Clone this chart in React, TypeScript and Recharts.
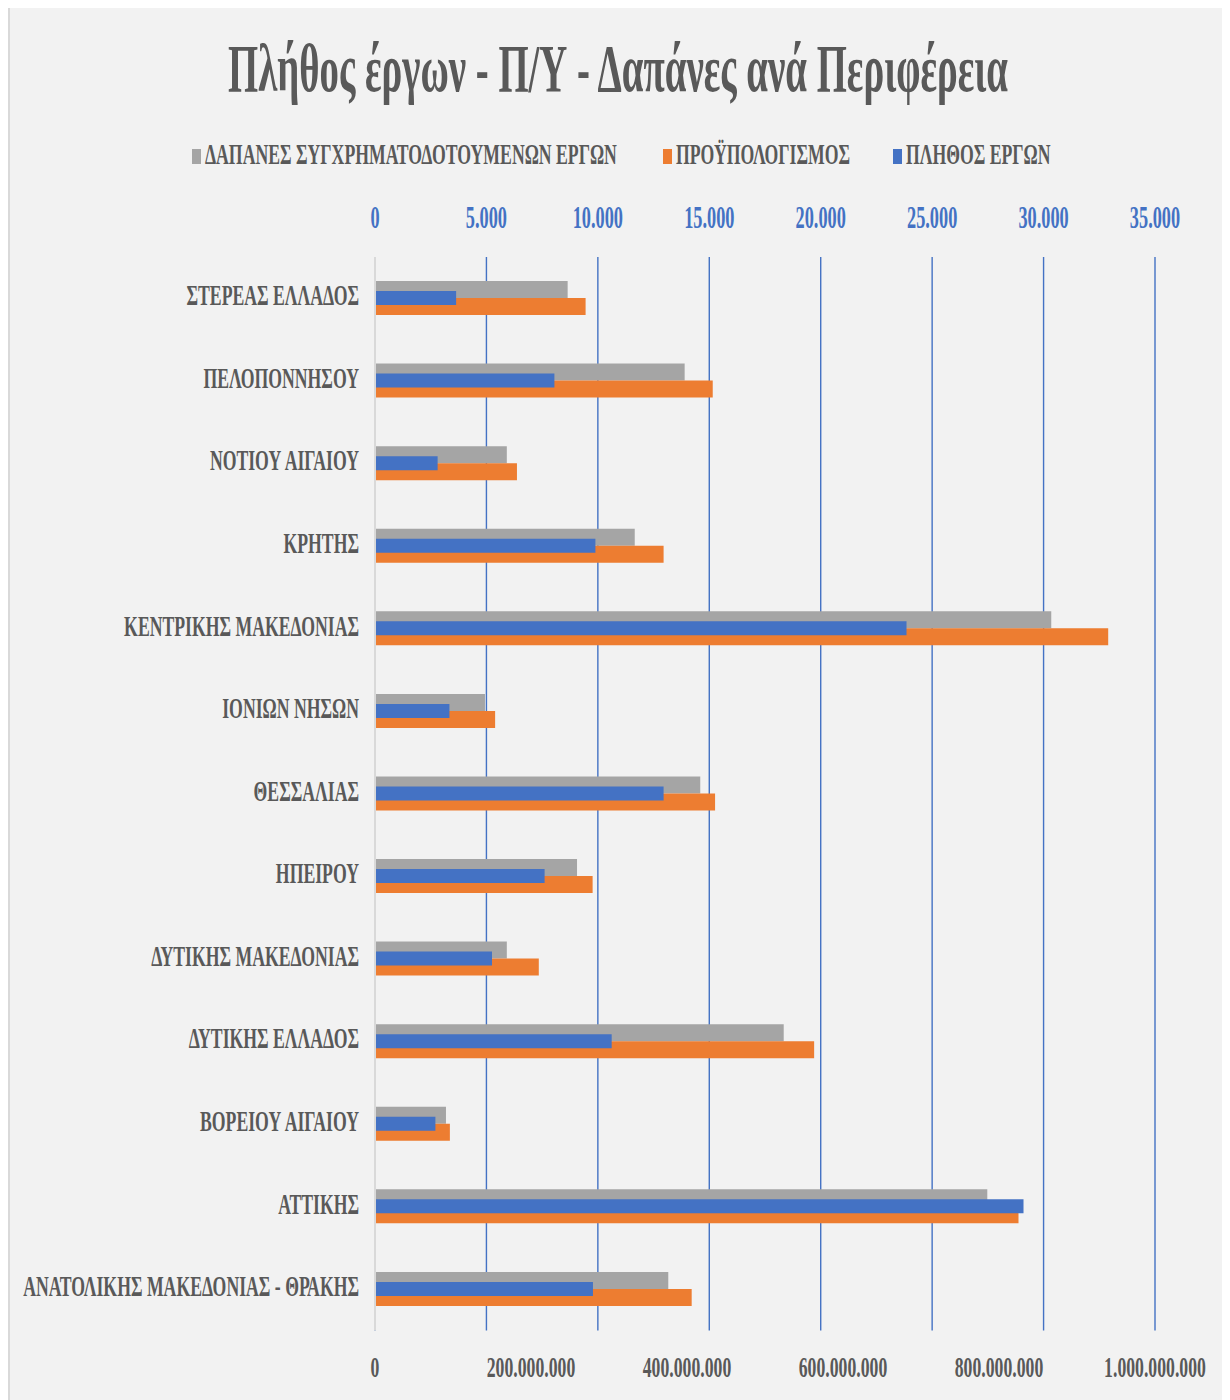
import React from 'react'
import { BarChart, Bar, XAxis, YAxis, CartesianGrid, Legend } from 'recharts'

const regions = [
  'ΣΤΕΡΕΑΣ ΕΛΛΑΔΟΣ',
  'ΠΕΛΟΠΟΝΝΗΣΟΥ',
  'ΝΟΤΙΟΥ ΑΙΓΑΙΟΥ',
  'ΚΡΗΤΗΣ',
  'ΚΕΝΤΡΙΚΗΣ ΜΑΚΕΔΟΝΙΑΣ',
  'ΙΟΝΙΩΝ ΝΗΣΩΝ',
  'ΘΕΣΣΑΛΙΑΣ',
  'ΗΠΕΙΡΟΥ',
  'ΔΥΤΙΚΗΣ ΜΑΚΕΔΟΝΙΑΣ',
  'ΔΥΤΙΚΗΣ ΕΛΛΑΔΟΣ',
  'ΒΟΡΕΙΟΥ ΑΙΓΑΙΟΥ',
  'ΑΤΤΙΚΗΣ',
  'ΑΝΑΤΟΛΙΚΗΣ ΜΑΚΕΔΟΝΙΑΣ - ΘΡΑΚΗΣ',
]

// δαπάνες συγχρηματοδοτούμενων έργων (€)
const spending = [247e6, 397e6, 169e6, 333e6, 867e6, 141e6, 417e6, 259e6, 169e6, 524e6, 91e6, 785e6, 376e6]
// προϋπολογισμός (€)
const budget = [270e6, 433e6, 182e6, 370e6, 940e6, 154e6, 436e6, 279e6, 210e6, 563e6, 96e6, 825e6, 406e6]
// πλήθος έργων
const projects = [3640, 8050, 2810, 9890, 23850, 3340, 12950, 7610, 5250, 10620, 2710, 29100, 9780]

const seriesNames = ['ΔΑΠΑΝΕΣ ΣΥΓΧΡΗΜΑΤΟΔΟΤΟΥΜΕΝΩΝ ΕΡΓΩΝ', 'ΠΡΟΫΠΟΛΟΓΙΣΜΟΣ', 'ΠΛΗΘΟΣ ΕΡΓΩΝ']
const seriesKeys = ['spending', 'budget', 'projects']

const topTicks = [0, 5000, 10000, 15000, 20000, 25000, 30000, 35000]
const bottomTicks = [0, 200e6, 400e6, 600e6, 800e6, 1000e6]

const data = regions.map((region, i) => ({
  region,
  spending: spending[i],
  budget: budget[i],
  projects: projects[i],
}))

const FONT = '"Liberation Serif", "Times New Roman", serif'
const SX = 0.59
const TITLE_SX = 0.56
const TEXT = '#595959'
const GREY = '#a5a5a5'
const ORANGE = '#ed7d31'
const BLUE = '#4472c4'

const fmt = (v: number) => String(Math.round(v)).replace(/\B(?=(\d{3})+(?!\d))/g, '.')

function CatTick({ x, y, payload }: any) {
  return (
    <g transform={`translate(${x},${y})`}>
      <text transform={`scale(${SX},1)`} textAnchor="end" dy={7} fontFamily={FONT} fontWeight="bold" fontSize={30} fill={TEXT}>
        {payload.value}
      </text>
    </g>
  )
}

function TopTick({ x, y, payload }: any) {
  return (
    <g transform={`translate(${x},${y})`}>
      <text transform={`scale(${SX},1)`} textAnchor="middle" fontFamily={FONT} fontWeight="bold" fontSize={31} fill={BLUE}>
        {fmt(payload.value)}
      </text>
    </g>
  )
}

function BottomTick({ x, y, payload }: any) {
  return (
    <g transform={`translate(${x},${y})`}>
      <text transform={`scale(${SX},1)`} textAnchor="middle" dy={20} fontFamily={FONT} fontWeight="bold" fontSize={30} fill={TEXT}>
        {fmt(payload.value)}
      </text>
    </g>
  )
}

function LegendContent({ payload }: any) {
  const xs = [184, 655, 885]
  const items = seriesKeys.map((k) => (payload || []).find((p: any) => p.dataKey === k)).filter(Boolean)
  return (
    <svg width={1219} height={40} style={{ display: 'block' }}>
      {items.map((p: any, i: number) => (
        <g key={p.dataKey}>
          <rect x={xs[i]} y={14} width={9} height={15} fill={p.color} />
          <g transform={`translate(${xs[i] + 13},29)`}>
            <text transform={`scale(${SX},1)`} fontFamily={FONT} fontWeight="bold" fontSize={30} fill={TEXT}>
              {p.value}
            </text>
          </g>
        </g>
      ))}
    </svg>
  )
}

export default function App() {
  return (
    <div
      style={{
        position: 'relative',
        width: 1219,
        height: 1400,
        marginTop: -3,
        background: '#f2f2f2',
        boxShadow: 'inset 0 0 0 2px #d9d9d9',
      }}
    >
      <svg width={1219} height={110} style={{ position: 'absolute', left: 0, top: 0 }}>
        <g transform={`translate(610,86)`}>
          <text
            transform={`scale(${TITLE_SX},1)`}
            textAnchor="middle"
            textLength={780 / TITLE_SX}
            lengthAdjust="spacingAndGlyphs"
            fontFamily={FONT}
            fontWeight="bold"
            fontSize={68}
            fill={TEXT}
          >
            Πλήθος έργων - Π/Υ - Δαπάνες ανά Περιφέρεια
          </text>
        </g>
      </svg>
      <BarChart
        layout="vertical"
        width={1219}
        height={1395}
        data={data}
        margin={{ top: 200, right: 72, bottom: 9.5, left: 7 }}
        barGap={0}
        style={{ position: 'absolute', left: 0, top: 0 }}
      >
        <CartesianGrid xAxisId="top" yAxisId="cat" horizontal={false} stroke={BLUE} strokeWidth={1.4} />
        <XAxis
          xAxisId="top"
          orientation="top"
          type="number"
          domain={[0, 35000]}
          ticks={topTicks}
          height={52}
          axisLine={false}
          tickLine={false}
          tickSize={0}
          tickMargin={29}
          tick={<TopTick />}
          interval={0}
        />
        <XAxis
          xAxisId="bottom"
          orientation="bottom"
          type="number"
          domain={[0, 1e9]}
          ticks={bottomTicks}
          height={60}
          axisLine={false}
          tickLine={false}
          tickSize={0}
          tickMargin={26}
          tick={<BottomTick />}
          interval={0}
        />
        <YAxis
          yAxisId="cat"
          type="category"
          dataKey="region"
          width={360}
          axisLine={{ stroke: '#d9d9d9', strokeWidth: 2 }}
          tickLine={false}
          tickSize={0}
          tickMargin={16}
          tick={<CatTick />}
          interval={0}
        />
        <YAxis yAxisId="blue" type="category" dataKey="region" width={0} hide />
        <Bar xAxisId="bottom" yAxisId="cat" dataKey="spending" name={seriesNames[0]} fill={GREY} barSize={17} isAnimationActive={false} />
        <Bar xAxisId="bottom" yAxisId="cat" dataKey="budget" name={seriesNames[1]} fill={ORANGE} barSize={17} isAnimationActive={false} />
        <Bar xAxisId="top" yAxisId="blue" dataKey="projects" name={seriesNames[2]} fill={BLUE} barSize={14} isAnimationActive={false} />
        <Legend
          layout="vertical"
          align="center"
          verticalAlign="middle"
          wrapperStyle={{ top: 130, left: 0, width: 1219, height: 40 }}
          content={<LegendContent />}
        />
      </BarChart>
    </div>
  )
}
